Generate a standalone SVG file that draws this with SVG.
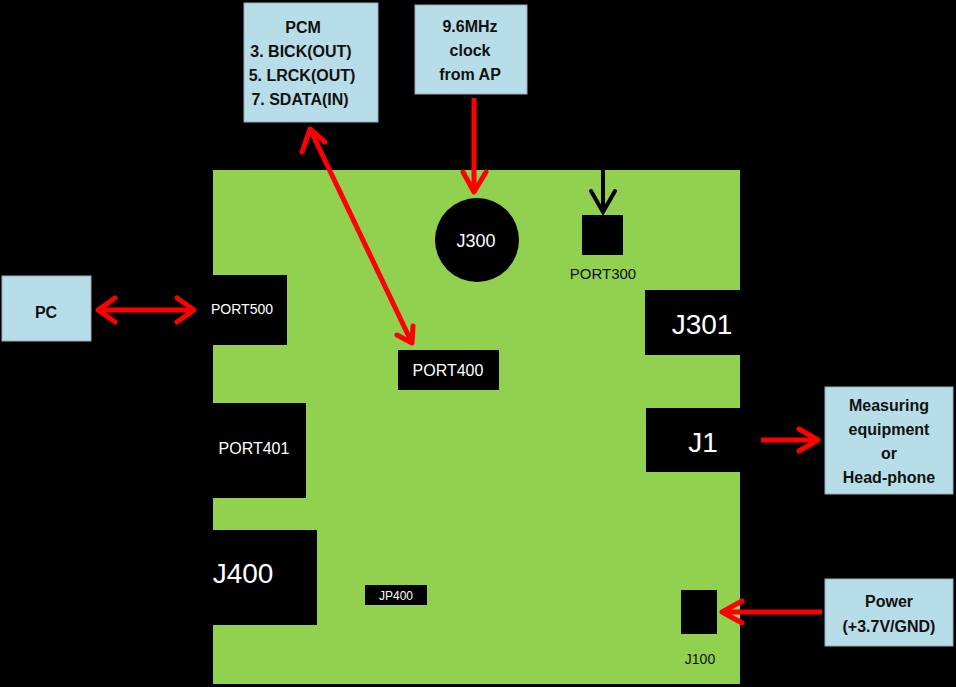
<svg xmlns="http://www.w3.org/2000/svg" width="956" height="687" viewBox="0 0 956 687">
<style>
text{font-family:"Liberation Sans",Arial,sans-serif}
.lbl{fill:#b7dde8;stroke:#9ab;stroke-width:1}
.lt{font-weight:bold;font-size:16px;fill:#111;text-anchor:middle}
.blk{fill:#000}
.wt{fill:#fff;text-anchor:middle}
.red{stroke:#f00;stroke-width:5;fill:none}
.hd{stroke:#f00;stroke-width:5;fill:none;stroke-linecap:round;stroke-linejoin:round}
</style>
<rect width="956" height="687" fill="#000"/>
<g id="board"><rect x="213" y="170" width="527" height="514" fill="#92d050"/></g>
<g id="PORT500"><rect class="blk" x="205" y="275" width="82" height="70"/><text class="wt" x="242" y="314" font-size="14">PORT500</text></g>
<g id="PORT401"><rect class="blk" x="205" y="403" width="101" height="95"/><text class="wt" x="254" y="454" font-size="16">PORT401</text></g>
<g id="J400"><rect class="blk" x="205" y="530" width="112" height="95"/><text class="wt" x="243" y="583" font-size="28">J400</text></g>
<g id="PORT400"><rect class="blk" x="398" y="350" width="101" height="40"/><text class="wt" x="448" y="376" font-size="16">PORT400</text></g>
<g id="JP400"><rect class="blk" x="365" y="585" width="62" height="20"/><text class="wt" x="396" y="600" font-size="12">JP400</text></g>
<g id="J300"><circle class="blk" cx="477" cy="240" r="42"/><text class="wt" x="476" y="247" font-size="18">J300</text></g>
<g id="PORT300"><rect class="blk" x="582" y="215" width="41" height="40"/><text x="603" y="279" font-size="15" fill="#111" text-anchor="middle">PORT300</text></g>
<g id="J301"><rect class="blk" x="645" y="290" width="100" height="65"/><text class="wt" x="702" y="334" font-size="28">J301</text></g>
<g id="J1"><rect class="blk" x="646" y="408" width="99" height="64"/><text class="wt" x="703" y="452" font-size="28">J1</text></g>
<g id="J100"><rect class="blk" x="681" y="590" width="36" height="44"/><text x="700" y="664" font-size="14" fill="#111" text-anchor="middle">J100</text></g>
<g id="PC"><rect class="lbl" x="2" y="276" width="89" height="65"/><text class="lt" x="46" y="318" font-size="26">PC</text></g>
<g id="PCM"><rect class="lbl" x="244" y="3" width="134" height="119"/>
<text class="lt" x="303" y="33">PCM</text><text class="lt" x="301" y="57">3. BICK(OUT)</text><text class="lt" x="302" y="81">5. LRCK(OUT)</text><text class="lt" x="300" y="105">7. SDATA(IN)</text></g>
<g id="clock"><rect class="lbl" x="415" y="5" width="112" height="89"/>
<text class="lt" x="470" y="32">9.6MHz</text><text class="lt" x="470" y="56">clock</text><text class="lt" x="470" y="80">from AP</text></g>
<g id="measure"><rect class="lbl" x="825" y="387" width="128" height="107"/>
<text class="lt" x="889" y="411">Measuring</text><text class="lt" x="889" y="435">equipment</text><text class="lt" x="889" y="459">or</text><text class="lt" x="889" y="483">Head-phone</text></g>
<g id="power"><rect class="lbl" x="825" y="579" width="128" height="67"/>
<text class="lt" x="889" y="607">Power</text><text class="lt" x="889" y="632">(+3.7V/GND)</text></g>
<g id="connectors">
<line class="red" x1="98" y1="310" x2="194" y2="310"/>
<polyline class="hd" points="115,298 98,310 115,322"/><polyline class="hd" points="177,298 194,310 177,322"/>
<line class="red" x1="310" y1="129" x2="412" y2="343"/>
<polyline class="hd" points="302,152 310,129 325,142"/><polyline class="hd" points="397,335 412,343 413,326"/>
<line class="red" x1="474" y1="98" x2="474" y2="192"/>
<polyline class="hd" points="463,172 474,192 486,172"/>
<line x1="603" y1="170" x2="603" y2="212" stroke="#000" stroke-width="4"/>
<polyline points="591,191 603,212 615,191" stroke="#000" stroke-width="4" fill="none" stroke-linecap="round"/>
<line class="red" x1="761" y1="440" x2="818" y2="440"/>
<polyline class="hd" points="799,429 818,440 799,451"/>
<line class="red" x1="822" y1="612" x2="722" y2="612"/>
<polyline class="hd" points="742,601 722,612 742,623"/>
</g>
</svg>
